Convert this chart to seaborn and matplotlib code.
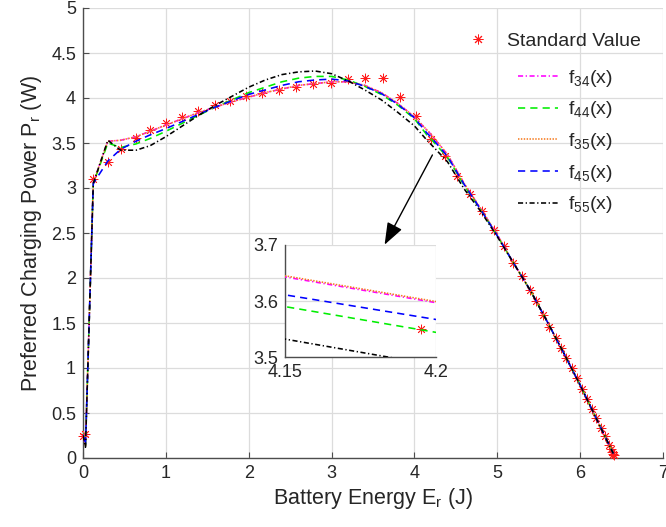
import numpy as np
import pandas as pd
import matplotlib
matplotlib.use("Agg")
import matplotlib.pyplot as plt
from matplotlib.lines import Line2D
import seaborn as sns

# ---- measured charging data: battery energy (J) vs preferred power (W)
std_energy = [0.0, 0.03, 0.124, 0.30, 0.454, 0.64, 0.81, 1.0, 1.19, 1.39, 1.59,
              1.78, 1.97, 2.165, 2.365, 2.575, 2.78, 2.99, 3.197, 3.405, 3.62,
              3.83, 4.02, 4.195, 4.37, 4.51, 4.67, 4.81, 4.955, 5.076, 5.19,
              5.30, 5.39, 5.47, 5.55, 5.63, 5.71, 5.77, 5.83, 5.90, 5.96, 6.02,
              6.08, 6.14, 6.19, 6.25, 6.30, 6.35, 6.375, 6.39, 6.40, 6.405]
std_power = [0.25, 0.27, 3.10, 3.29, 3.43, 3.56, 3.65, 3.72, 3.79, 3.86, 3.92,
             3.97, 4.02, 4.06, 4.09, 4.125, 4.15, 4.17, 4.21, 4.225, 4.225,
             4.015, 3.80, 3.55, 3.36, 3.13, 2.93, 2.74, 2.53, 2.36, 2.17,
             2.02, 1.87, 1.74, 1.59, 1.46, 1.33, 1.22, 1.11, 1.00, 0.885, 0.77,
             0.66, 0.55, 0.44, 0.33, 0.24, 0.14, 0.10, 0.07, 0.05, 0.03]

# ---- fitted models evaluated on a common energy grid
fit_energy = [0.0, 0.03, 0.124, 0.3, 0.454, 0.64, 0.81, 1.0, 1.2, 1.4, 1.6, 1.8,
              2.0, 2.2, 2.4, 2.6, 2.8, 3.0, 3.2, 3.4, 3.6, 3.8, 4.0, 4.15, 4.2,
              4.4, 4.6, 4.8, 5.0, 5.2, 5.4, 5.6, 5.8, 6.0, 6.2, 6.3, 6.4]
f34 = [0.30, 0.14, 3.06, 3.52, 3.53, 3.57, 3.63, 3.70, 3.77, 3.84, 3.90, 3.96,
       4.01, 4.06, 4.10, 4.14, 4.16, 4.18, 4.18, 4.14, 4.06, 3.94, 3.79, 3.643, 3.597,
       3.37, 3.05, 2.77, 2.48, 2.16, 1.86, 1.52, 1.17, 0.81, 0.43, 0.24, 0.05]
f44 = [0.28, 0.14, 3.05, 3.50, 3.45, 3.49, 3.55, 3.63, 3.72, 3.81, 3.90, 3.98,
       4.06, 4.12, 4.18, 4.22, 4.24, 4.24, 4.20, 4.13, 4.04, 3.92, 3.77, 3.590, 3.544,
       3.34, 3.03, 2.76, 2.47, 2.16, 1.86, 1.52, 1.17, 0.81, 0.43, 0.24, 0.05]
f35 = [0.30, 0.14, 3.06, 3.52, 3.53, 3.57, 3.63, 3.70, 3.77, 3.84, 3.90, 3.96,
       4.01, 4.06, 4.10, 4.14, 4.16, 4.18, 4.18, 4.14, 4.06, 3.94, 3.79, 3.645, 3.599,
       3.37, 3.05, 2.77, 2.48, 2.16, 1.86, 1.52, 1.17, 0.81, 0.43, 0.24, 0.05]
f45 = [0.26, 0.14, 3.05, 3.30, 3.43, 3.52, 3.59, 3.66, 3.74, 3.82, 3.90, 3.97,
       4.04, 4.09, 4.14, 4.18, 4.20, 4.21, 4.19, 4.13, 4.05, 3.93, 3.78, 3.611, 3.567,
       3.35, 3.04, 2.76, 2.47, 2.16, 1.86, 1.52, 1.17, 0.81, 0.43, 0.24, 0.05]
f55 = [0.25, 0.12, 3.05, 3.53, 3.42, 3.42, 3.47, 3.57, 3.69, 3.81, 3.92, 4.02,
       4.12, 4.20, 4.26, 4.29, 4.30, 4.27, 4.19, 4.09, 3.98, 3.84, 3.69, 3.532, 3.485,
       3.29, 2.99, 2.74, 2.46, 2.16, 1.86, 1.52, 1.17, 0.81, 0.43, 0.24, 0.05]

model_labels = ["34", "44", "35", "45", "55"]
model_values = [f34, f44, f35, f45, f55]

INK = "#262626"
styles = {
    "34": dict(color="#ff00ff", linestyle=(0, (3.2, 1.6, 0.8, 1.6))),
    "44": dict(color="#00ee00", linestyle=(0, (4.5, 3.2))),
    "35": dict(color="#f57a1e", linestyle=(0, (0.9, 0.9))),
    "45": dict(color="#0000ff", linestyle=(0, (4.5, 3.2))),
    "55": dict(color="#000000", linestyle=(0, (3.2, 1.6, 0.8, 1.6))),
}

sns.set_theme(style="whitegrid")
plt.rcParams["font.family"] = ["Liberation Sans", "DejaVu Sans"]
plt.rcParams["mathtext.fontset"] = "custom"
plt.rcParams["mathtext.rm"] = "Liberation Sans"
plt.rcParams["mathtext.it"] = "Liberation Sans:italic"

fits = pd.DataFrame({"energy": np.tile(fit_energy, len(model_values)),
                     "power": np.concatenate(model_values),
                     "model": np.repeat(model_labels, len(fit_energy))})
measured = pd.DataFrame({"energy": std_energy, "power": std_power})

fig = plt.figure(figsize=(6.66, 5.27), dpi=100)
ax = fig.add_axes([83 / 666, 69 / 527, 580 / 666, 450 / 527])
ins = fig.add_axes([285 / 666, 170 / 527, 151 / 666, 112 / 527])

star = (8, 2, 0)
TICK_FS = 13


def draw(target, lw=1.15):
    sns.scatterplot(data=measured, x="energy", y="power", ax=target, marker=star,
                    s=42, color="#ff1a1a", linewidth=0.6, clip_on=False,
                    zorder=3, legend=False)
    for key in model_labels:
        sns.lineplot(data=fits[fits.model == key], x="energy", y="power",
                     ax=target, sort=False, linewidth=lw, legend=False,
                     zorder=4, **styles[key])


def style_axes(a):
    a.set_facecolor("white")
    a.grid(True, color="#dcdcdc", linewidth=0.9)
    for side in ("top", "right"):
        a.spines[side].set_visible(False)
    for side in ("left", "bottom"):
        a.spines[side].set_color("#4d4d4d")
        a.spines[side].set_linewidth(1.0)
    a.tick_params(direction="in", length=4, width=0.8, color="#4d4d4d",
                  labelsize=TICK_FS, labelcolor=INK, pad=5,
                  bottom=True, left=True)
    a.set_xlabel("")
    a.set_ylabel("")


draw(ax)
style_axes(ax)
ax.set_xlim(0, 7)
ax.set_ylim(0, 5)
ax.set_xticks(range(0, 8))
ax.set_xticklabels([str(v) for v in range(0, 8)])
ax.set_yticks(np.arange(0, 5.01, 0.5))
ax.set_yticklabels(["0", "0.5", "1", "1.5", "2", "2.5", "3", "3.5", "4", "4.5", "5"])
ax.set_xlabel(r"Battery Energy E$_\mathregular{r}$ (J)", fontsize=15.5, color=INK, labelpad=3)
ax.set_ylabel(r"Preferred Charging Power P$_\mathregular{r}$ (W)", fontsize=15.5, color=INK, labelpad=5)

draw(ins)
style_axes(ins)
ins.set_xlim(4.15, 4.2)
ins.set_ylim(3.5, 3.7)
ins.set_xticks([4.15, 4.2])
ins.set_xticklabels(["4.15", "4.2"])
ins.set_yticks([3.5, 3.6, 3.7])
ins.set_yticklabels(["3.5", "3.6", "3.7"])
ins.tick_params(length=0)

# pointer from the curve down to the magnified window
ax.annotate("", xy=(3.64, 2.37), xytext=(4.217, 3.367),
            arrowprops=dict(arrowstyle="-|>,head_length=0.75,head_width=0.28",
                            color="black", lw=1.0,
                            mutation_scale=18, shrinkA=0, shrinkB=0))

# legends
LEG_FS = 14
std_handle = [Line2D([], [], linestyle="none", marker=star, markersize=7,
                     markeredgewidth=0.7, color="#ff1a1a")]
fig.legend(std_handle, ["Standard Value"], loc="center left",
           bbox_to_anchor=(458 / 666, 1 - 41 / 527), frameon=False,
           fontsize=LEG_FS, handlelength=2.06, handletextpad=0.46,
           borderpad=0, borderaxespad=0, labelcolor=INK)
fit_handles = [Line2D([], [], linewidth=1.15, **styles[k]) for k in model_labels]
fit_names = [r"$\mathregular{f_{%s}}$(x)" % k for k in model_labels]
fig.legend(fit_handles, fit_names, loc="center left",
           bbox_to_anchor=(518 / 666, 1 - 141.5 / 527), frameon=False,
           fontsize=LEG_FS, handlelength=2.06, handletextpad=0.5, labelspacing=0.55,
           borderpad=0, borderaxespad=0, labelcolor=INK)

fig.savefig("out.png", dpi=100, facecolor="white")
